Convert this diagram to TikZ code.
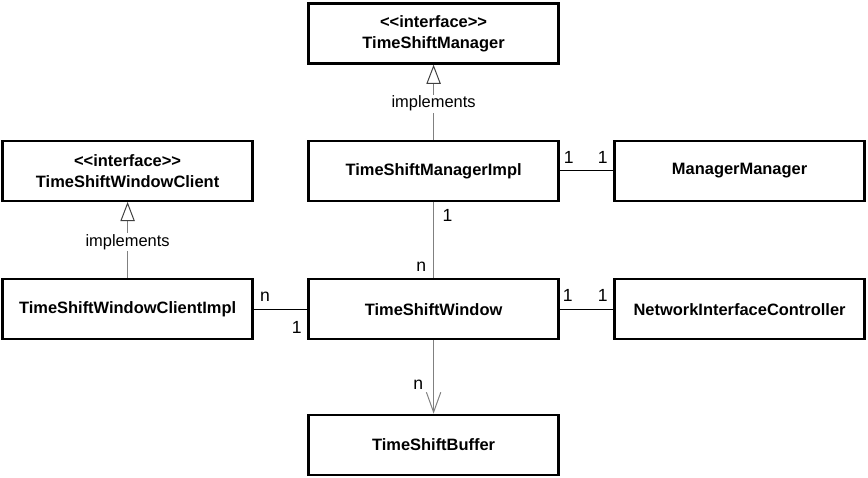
\documentclass[tikz,border=0pt]{standalone}
\usepackage{fontspec}
\setmainfont{Liberation Sans}[Ligatures=TeXOff]
\usepackage{tikz}
\usetikzlibrary{shapes,arrows,positioning,arrows.meta}
\tikzstyle{classbox} = [rectangle, draw=black, line width=1.6pt, minimum width=6.25cm, minimum height=1.5cm, text centered, font=\fontsize{11.7}{15}\selectfont\bfseries]
\tikzstyle{assoc} = [draw=black, line width=0.7pt]
\tikzstyle{link} = [draw=gray, line width=0.7pt]
\tikzstyle{realize} = [draw=gray, line width=0.7pt, -{Triangle[open, length=0.48cm, width=0.36cm, color=black!75]}]
\tikzstyle{navigate} = [draw=gray, line width=0.7pt, -{Straight Barb[length=0.5cm, width=0.36cm]}]
\tikzstyle{mult} = [inner sep=5pt, font=\fontsize{12.5}{15}\selectfont]
\tikzstyle{stereo} = [fill=white, inner sep=1pt]

\begin{document}
\begin{tikzpicture}[node distance=7.65cm,align=center,font=\fontsize{11.7}{15}\selectfont]
	\useasboundingbox (-10.84,0.84) rectangle (10.86,-11.11);
	\node[classbox](manager){<<interface>> \\ TimeShiftManager};
	\node[classbox, below of=manager, node distance=3.43cm](managerimpl){TimeShiftManagerImpl};
	\node[classbox, right of=managerimpl](managermanager){ManagerManager};
	\node[classbox, left of=managerimpl](client){<<interface>> \\ TimeShiftWindowClient};
	\node[classbox, below of=client, node distance=3.46cm](clientimpl){TimeShiftWindowClientImpl};
	\node[classbox, below of=managerimpl, node distance=3.46cm](window){TimeShiftWindow};
	\node[classbox, right of=window](nic){NetworkInterfaceController};
	\node[classbox, below of=window, node distance=3.39cm](buffer){TimeShiftBuffer};

	\path[realize](managerimpl)   -- node[stereo, pos=0.48]{implements}  (manager);
	\path[realize](clientimpl)    -- node[stereo, pos=0.47]{implements}  (client);
	\path[assoc](managerimpl)     -- node[mult, above, pos=0.17]{1} node[mult, above, pos=0.8]{1} (managermanager);
	\path[link](managerimpl)      -- node[mult, right, pos=0.18, xshift=1pt]{1} node[mult, left, pos=0.85]{n}  (window);
	\path[assoc](clientimpl)      -- node[mult, above, pos=0.21]{n} node[mult, below, pos=0.8, yshift=-3pt]{1}  (window);
	\path[assoc](window)          -- node[mult, above, pos=0.15]{1} node[mult, above, pos=0.8]{1}  (nic);
	\path[navigate](window)       -- node[mult, left, pos=0.61, xshift=-2pt]{n}  (buffer);
\end{tikzpicture}
\end{document}
